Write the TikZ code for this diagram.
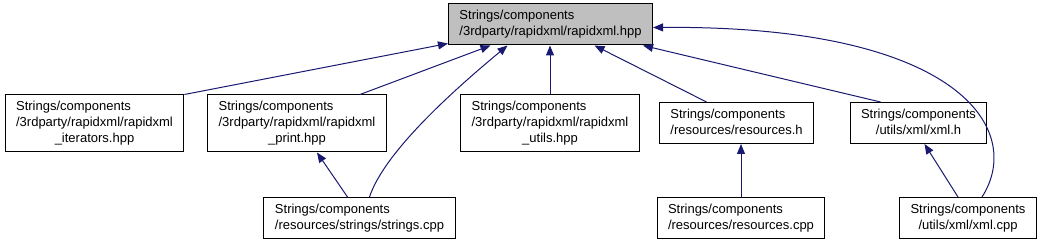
\documentclass[tikz,border=0pt]{standalone}
\usepackage{fontspec}
\setmainfont{Liberation Sans}
\usetikzlibrary{arrows.meta}
\definecolor{edgeblue}{HTML}{191970}
\definecolor{rootgray}{HTML}{BFBFBF}
% first lines left, last line centred
\newcommand{\flabel}[2]{\begin{tabular}{@{}l@{}}#1\\\multicolumn{1}{@{}c@{}}{#2}\end{tabular}}

\begin{document}
\begin{tikzpicture}[x=1pt,y=-1pt,
  file/.style={draw=black,line width=1pt,fill=white,inner xsep=11pt,inner ysep=4.5pt,
    font=\fontsize{13}{16}\selectfont},
  dep/.style={draw=edgeblue,line width=1pt,-{Triangle[length=10pt,width=8pt]}}]
  \useasboundingbox (0,0) rectangle (1044,245);

  \node[file,fill=rootgray] (root) at (550.5,24.5)
    {\flabel{Strings/components}{/3rdparty/rapidxml/rapidxml.hpp}};

  \node[file] (iter) at (94.5,123.5)
    {\flabel{Strings/components\\/3rdparty/rapidxml/rapidxml}{\_iterators.hpp}};
  \node[file] (print) at (297,123.5)
    {\flabel{Strings/components\\/3rdparty/rapidxml/rapidxml}{\_print.hpp}};
  \node[file] (utils) at (550,123.5)
    {\flabel{Strings/components\\/3rdparty/rapidxml/rapidxml}{\_utils.hpp}};
  \node[file] (resh) at (736.5,123)
    {\flabel{Strings/components}{/resources/resources.h}};
  \node[file] (xmlh) at (918.5,123)
    {\flabel{Strings/components}{/utils/xml/xml.h}};

  \node[file] (strcpp) at (359.5,218)
    {\flabel{Strings/components}{/resources/strings/strings.cpp}};
  \node[file] (rescpp) at (741,218)
    {\flabel{Strings/components}{/resources/resources.cpp}};
  \node[file] (xmlcpp) at (968,218)
    {\flabel{Strings/components}{/utils/xml/xml.cpp}};

  \draw[dep] (iter.north east) -- ([yshift=2pt]root.south west);
  \draw[dep] ([xshift=63pt]print.north) -- ([xshift=-60pt]root.south);
  \draw[dep] ([xshift=10pt]strcpp.north) .. controls (385,150) and (460,85) .. ([xshift=-43pt]root.south);
  \draw[dep] (utils.north) -- (utils.north |- root.south);
  \draw[dep] ([xshift=-30pt]resh.north) -- ([xshift=44pt]root.south);
  \draw[dep] ([xshift=-38pt]xmlh.north) -- ([xshift=-10pt]root.south east);
  \draw[dep] ([xshift=14pt]xmlcpp.north) .. controls (1025,130) and (960,25) .. ([yshift=-3pt]root.east);
  \draw[dep] ([xshift=-12pt]strcpp.north) -- ([xshift=20pt]print.south);
  \draw[dep] (rescpp.north) -- (rescpp.north |- resh.south);
  \draw[dep] ([xshift=-10pt]xmlcpp.north) -- ([xshift=6pt]xmlh.south);
\end{tikzpicture}
\end{document}
